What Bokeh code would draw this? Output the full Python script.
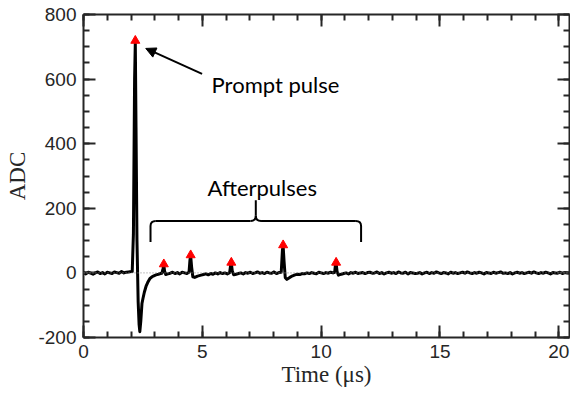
from bokeh.plotting import figure
from bokeh.models import (LinearAxis, Range1d, Label, Arrow, NormalHead, Span,
                          SingleIntervalTicker, CustomJSTickFormatter)
from bokeh.embed import file_html
from bokeh.resources import INLINE

# ---- data ----
time_us = [
    0.0, 0.1, 0.2, 0.3, 0.4, 0.5, 0.6, 0.7, 0.8, 0.9, 1.0, 1.1, 1.2, 1.3, 1.4, 1.5, 1.6, 1.7, 1.8, 1.9, 2.0,
    2.05, 2.10, 2.15, 2.18, 2.21, 2.25, 2.30, 2.34, 2.37, 2.41, 2.46, 2.50, 2.56, 2.63, 2.70, 2.79, 2.88,
    2.96, 3.05, 3.15, 3.24, 3.30,
    3.35, 3.38, 3.41, 3.46, 3.55, 3.65, 3.75, 3.85, 3.95, 4.05, 4.15, 4.25, 4.35, 4.44,
    4.48, 4.51, 4.55, 4.60, 4.68, 4.80, 4.95,
    5.05, 5.15, 5.25, 5.35, 5.45, 5.55, 5.65, 5.75, 5.85, 5.95, 6.05, 6.15,
    6.19, 6.22, 6.26, 6.32, 6.42,
    6.52, 6.62, 6.72, 6.82, 6.92, 7.02, 7.12, 7.22, 7.32, 7.42, 7.52, 7.62, 7.72, 7.82, 7.92, 8.02, 8.12,
    8.22, 8.32,
    8.37, 8.40, 8.44, 8.49, 8.56, 8.68, 8.80,
    8.90, 9.00, 9.10, 9.20, 9.30, 9.40, 9.50, 9.60, 9.70, 9.80, 9.90, 10.00, 10.10, 10.20, 10.30, 10.40,
    10.50, 10.57,
    10.60, 10.63, 10.67, 10.73, 10.85,
    10.95, 11.05, 11.15, 11.25, 11.35, 11.45, 11.55, 11.65, 11.75, 11.85, 11.95,
    12.05, 12.15, 12.25, 12.35, 12.45, 12.55, 12.65, 12.75, 12.85, 12.95,
    13.05, 13.15, 13.25, 13.35, 13.45, 13.55, 13.65, 13.75, 13.85, 13.95,
    14.05, 14.15, 14.25, 14.35, 14.45, 14.55, 14.65, 14.75, 14.85, 14.95,
    15.05, 15.15, 15.25, 15.35, 15.45, 15.55, 15.65, 15.75, 15.85, 15.95,
    16.05, 16.15, 16.25, 16.35, 16.45, 16.55, 16.65, 16.75, 16.85, 16.95,
    17.05, 17.15, 17.25, 17.35, 17.45, 17.55, 17.65, 17.75, 17.85, 17.95,
    18.05, 18.15, 18.25, 18.35, 18.45, 18.55, 18.65, 18.75, 18.85, 18.95,
    19.05, 19.15, 19.25, 19.35, 19.45, 19.55, 19.65, 19.75, 19.85, 19.95,
    20.05, 20.15, 20.25, 20.35, 20.45,
]
adc = [
    1, -3, 2, -1, -4, 0, 3, -2, 1, -3, 2, 0, -2, 3, 1, -1, 4, 0, 2, 3, 4,
    4, 120, 600, 715, 450, 100, -90, -160, -182, -150, -95, -80, -60, -42, -30, -18, -12,
    -9, -6, -4, -2, -1,
    14, 25, 6, -5, -3, -1, 2, -2, 1, -3, 2, 0, -2, 2,
    40, 53, 18, -12, -14, -10, -7,
    -5, -3, -6, -2, -4, 0, -3, 1, -2, 0, -3, 1,
    24, 30, 6, -6, -4,
    -2, 0, -3, 1, -1, 2, -2, 0, 3, -1, 1, -2, 2, 0, -1, 3, -2,
    1, 2,
    70, 84, 35, -15, -20, -14, -9,
    -6, -4, -5, -2, -3, 0, -2, 1, -1, -3, 2, 0, -2, 1, -1, 2,
    0, 2,
    25, 30, 4, -7, -4,
    -2, 0, -3, 1, -1, 2, -2, 0, 1, -2, 1,
    2, -1, 0, 3, -2, 1, -3, 0, 2, -1,
    1, -2, 3, 0, -1, 2, -3, 1, 0, -2,
    -1, 1, -3, 0, 2, -2, 1, -1, 3, 0,
    -2, 1, 0, -3, 2, -1, 1, -2, 0, 2,
    -1, 3, 0, -2, 1, -1, 2, 0, -3, 1,
    0, -2, 2, -1, 1, 3, -1, 0, -2, 1,
    -3, 0, 2, -1, 1, -2, 0, 2, -1, 3,
    0, -2, 1, -1, 2, 0, -3, 1, 0, -1,
    2, -2, 1, 0, -1,
]
peak_t = [2.18, 3.38, 4.51, 6.22, 8.40, 10.63]
peak_adc = [719, 27, 55, 32, 86, 32]

x_ticks_interval = 5
y_ticks_interval = 200

AXC = "#262626"

p = figure(width=570, height=394, x_range=Range1d(0, 20.45), y_range=Range1d(-200, 800),
           output_backend="svg", toolbar_location=None,
           min_border_left=83, min_border_right=1, min_border_top=14, min_border_bottom=57)
p.outline_line_color = None
p.xgrid.visible = False
p.ygrid.visible = False
p.background_fill_color = "white"
p.border_fill_color = "white"

plain = CustomJSTickFormatter(code="return tick.toString();")
blank = CustomJSTickFormatter(code="return '';")


def style(ax, labels=True):
    ax.axis_line_color = AXC
    ax.axis_line_width = 2
    ax.major_tick_line_color = AXC
    ax.minor_tick_line_color = AXC
    ax.major_tick_line_width = 2
    ax.minor_tick_line_width = 2
    ax.major_tick_in = 12
    ax.major_tick_out = 0
    ax.minor_tick_in = 6
    ax.minor_tick_out = 0
    if labels:
        ax.formatter = plain
        ax.major_label_text_font = "Liberation Sans"
        ax.major_label_text_font_size = "19px"
        ax.major_label_text_color = AXC
    else:
        ax.formatter = blank
        ax.major_label_text_font_size = "1px"
        ax.major_label_standoff = 0


p.xaxis.ticker = SingleIntervalTicker(interval=x_ticks_interval, num_minor_ticks=5)
p.yaxis.ticker = SingleIntervalTicker(interval=y_ticks_interval, num_minor_ticks=4)
style(p.xaxis[0])
style(p.yaxis[0])
p.xaxis.major_label_standoff = 7
p.yaxis.major_label_standoff = 7

p.yaxis.axis_label = "ADC"
p.yaxis.axis_label_text_font = "Liberation Serif"
p.yaxis.axis_label_text_font_style = "normal"
p.yaxis.axis_label_text_font_size = "23px"
p.yaxis.axis_label_text_color = AXC
p.yaxis.axis_label_standoff = 5

p.xaxis.axis_label = "Time (\u03bcs)"
p.xaxis.axis_label_text_font = "Liberation Serif"
p.xaxis.axis_label_text_font_style = "normal"
p.xaxis.axis_label_text_font_size = "23px"
p.xaxis.axis_label_text_color = AXC
p.xaxis.axis_label_standoff = 1

top = LinearAxis(ticker=SingleIntervalTicker(interval=x_ticks_interval, num_minor_ticks=5))
right = LinearAxis(ticker=SingleIntervalTicker(interval=y_ticks_interval, num_minor_ticks=4))
style(top, labels=False)
style(right, labels=False)
p.add_layout(top, "above")
p.add_layout(right, "right")

# dotted zero line
p.add_layout(Span(location=0, dimension="width", line_color="#888888", line_width=1,
                  line_dash="1 2"))

# trace and peaks
p.line(time_us, adc, line_color="black", line_width=3, line_join="round")
p.scatter(peak_t, peak_adc, marker="triangle", size=9, fill_color="red", line_color="red")

# annotations
p.add_layout(Arrow(end=NormalHead(size=10, fill_color="black", line_color="black"),
                   x_start=4.99, y_start=616, x_end=2.62, y_end=695,
                   line_color="black", line_width=2))
p.add_layout(Label(x=5.39, y=584, text="Prompt pulse", text_font="Lato",
                   text_font_size="22px", text_color="black", text_baseline="alphabetic"))
p.add_layout(Label(x=7.52, y=264, text="Afterpulses", text_font="Lato",
                   text_font_size="22px", text_color="black", text_baseline="alphabetic",
                   text_align="center"))

# curly brace
bx0, bx1, bm = 2.82, 11.68, 7.25
yh, ye, ys = 161, 96, 225
dx, dy = 0.22, 16
p.segment(x0=[bx0, bx1, bx0 + dx, bm + dx, bm], y0=[ye, ye, yh, yh, yh + dy],
          x1=[bx0, bx1, bm - dx, bx1 - dx, bm], y1=[yh - dy, yh - dy, yh, yh, ys],
          line_color="black", line_width=2)
p.quadratic(x0=[bx0, bx1, bm - dx, bm + dx], y0=[yh - dy, yh - dy, yh, yh],
            x1=[bx0 + dx, bx1 - dx, bm, bm], y1=[yh, yh, yh + dy, yh + dy],
            cx=[bx0, bx1, bm, bm], cy=[yh, yh, yh, yh],
            line_color="black", line_width=2)

open("out.html", "w").write(file_html(p, INLINE))
